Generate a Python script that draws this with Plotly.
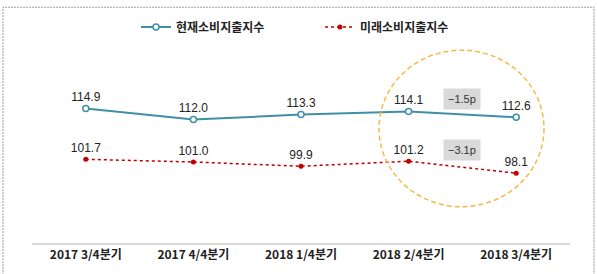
import plotly.graph_objects as go

categories = ["2017 3/4분기", "2017 4/4분기", "2018 1/4분기", "2018 2/4분기", "2018 3/4분기"]
current_index = [114.9, 112.0, 113.3, 114.1, 112.6]
future_index = [101.7, 101.0, 99.9, 101.2, 98.1]
series_names = ["현재소비지출지수", "미래소비지출지수"]
change_labels = ["−1.5p", "−3.1p"]

W, H = 597, 274
ML, MR, MT, MB = 32, 27, 50, 26

blue = "#3f8fa7"
red = "#c00000"
num_font = "Liberation Sans, Arial, Noto Sans CJK KR"
kr_font = "Noto Sans CJK KR, Noto Sans, sans-serif"

fig = go.Figure()
fig.add_trace(go.Scatter(
    x=list(range(len(categories))), y=current_index, name=series_names[0],
    mode="lines+markers+text",
    line=dict(color=blue, width=2),
    marker=dict(symbol="circle", size=6, color="white", line=dict(color=blue, width=1.5)),
    text=[f"{v:.1f}" for v in current_index], textposition="top center",
    textfont=dict(family=num_font, size=12, color="#222"),
))
fig.add_trace(go.Scatter(
    x=list(range(len(categories))), y=future_index, name=series_names[1],
    mode="lines+markers+text",
    line=dict(color=red, width=1.5, dash="dot"),
    marker=dict(symbol="circle", size=5, color=red),
    text=[f"{v:.1f}" for v in future_index], textposition="top center",
    textfont=dict(family=num_font, size=12, color="#222"),
))

# change annotations (between last two quarters)
for lbl, yv in zip(change_labels, [117.3, 104.2]):
    fig.add_annotation(x=3.5, y=yv, xref="x", yref="y", text=lbl, showarrow=False,
                       bgcolor="#d9d9d9", borderpad=4,
                       font=dict(family=num_font, size=11, color="#333"))

def px_x(p):
    return (p - ML) / (W - ML - MR)

def px_y(p):
    return (H - MB - p) / (H - MT - MB)

# highlight circle
fig.add_shape(type="circle", xref="paper", yref="paper",
              x0=px_x(379), x1=px_x(544), y0=px_y(210), y1=px_y(46),
              line=dict(color="#f5b94a", width=1.5, dash="5px,3px"))
# outer dotted frame
fig.add_shape(type="rect", xref="paper", yref="paper",
              x0=px_x(3), x1=px_x(594), y0=px_y(285), y1=px_y(1),
              line=dict(color="#999999", width=1, dash="2px,1px"))

fig.update_layout(
    width=W, height=H, margin=dict(l=ML, r=MR, t=MT, b=MB),
    paper_bgcolor="white", plot_bgcolor="white",
    showlegend=True,
    legend=dict(orientation="h", x=px_x(136), xanchor="left", y=px_y(21.7), yanchor="middle",
                font=dict(family=kr_font, size=12, color="#222", weight="bold"),
                entrywidth=139, entrywidthmode="pixels", bgcolor="rgba(0,0,0,0)"),
    xaxis=dict(range=[-0.5, 4.5], tickmode="array", tickvals=list(range(len(categories))),
               ticktext=categories, showgrid=False, zeroline=False,
               showline=True, linecolor="#d9d9d9", linewidth=1.5, ticks="",
               tickfont=dict(family=kr_font, size=12, color="#222", weight="bold")),
    yaxis=dict(range=[80, 129], visible=False, showgrid=False, zeroline=False),
)

fig.write_html("out.html")
